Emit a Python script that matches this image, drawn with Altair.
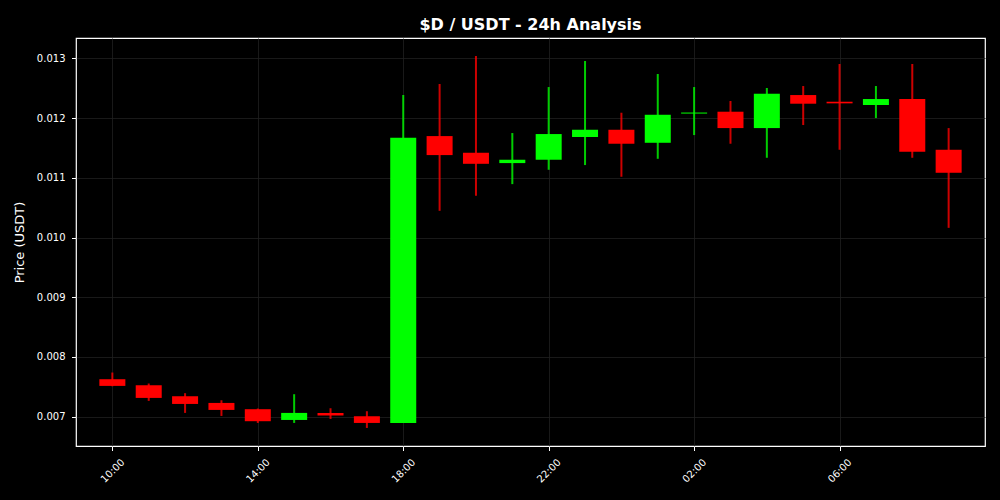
import altair as alt
import pandas as pd

times = [
    "2024-01-01T10:00:00", "2024-01-01T11:00:00", "2024-01-01T12:00:00", "2024-01-01T13:00:00",
    "2024-01-01T14:00:00", "2024-01-01T15:00:00", "2024-01-01T16:00:00", "2024-01-01T17:00:00",
    "2024-01-01T18:00:00", "2024-01-01T19:00:00", "2024-01-01T20:00:00", "2024-01-01T21:00:00",
    "2024-01-01T22:00:00", "2024-01-01T23:00:00", "2024-01-02T00:00:00", "2024-01-02T01:00:00",
    "2024-01-02T02:00:00", "2024-01-02T03:00:00", "2024-01-02T04:00:00", "2024-01-02T05:00:00",
    "2024-01-02T06:00:00", "2024-01-02T07:00:00", "2024-01-02T08:00:00", "2024-01-02T09:00:00",
]
open_ = [0.007628, 0.007527, 0.007343, 0.007231, 0.007126, 0.006946, 0.007064, 0.007008,
         0.006896, 0.011698, 0.011419, 0.011246, 0.011302, 0.011682, 0.011804, 0.011586,
         0.012075, 0.012106, 0.011832, 0.012385, 0.012273, 0.012218, 0.012318, 0.011469]
high = [0.007740, 0.007556, 0.007394, 0.007276, 0.007137, 0.007377, 0.007142, 0.007092,
        0.012385, 0.012570, 0.013039, 0.011749, 0.012519, 0.012955, 0.012089, 0.012737,
        0.012519, 0.012285, 0.012503, 0.012536, 0.012905, 0.012536, 0.012905, 0.011832]
low = [0.007510, 0.007265, 0.007064, 0.007013, 0.006896, 0.006896, 0.006963, 0.006812,
       0.006896, 0.010447, 0.010699, 0.010894, 0.011134, 0.011213, 0.011017, 0.011318,
       0.011715, 0.011570, 0.011335, 0.011883, 0.011469, 0.012000, 0.011335, 0.010162]
close = [0.007516, 0.007315, 0.007214, 0.007114, 0.006925, 0.007064, 0.007020, 0.006896,
         0.011670, 0.011380, 0.011234, 0.011302, 0.011732, 0.011804, 0.011570, 0.012055,
         0.012092, 0.011832, 0.012407, 0.012240, 0.012246, 0.012318, 0.011436, 0.011084]

tick_times = ["2024-01-01T10:00:00", "2024-01-01T14:00:00", "2024-01-01T18:00:00",
              "2024-01-01T22:00:00", "2024-01-02T02:00:00", "2024-01-02T06:00:00"]
y_ticks = [0.007, 0.008, 0.009, 0.010, 0.011, 0.012, 0.013]

df = pd.DataFrame({"time": times, "open": open_, "high": high, "low": low, "close": close})
df["dir"] = ["up" if c >= o else "down" for o, c in zip(open_, close)]

color = alt.Color("dir:N", scale=alt.Scale(domain=["up", "down"], range=["#00ff00", "#ff0000"]), legend=None)

x = alt.X(
    "time:T",
    scale=alt.Scale(domain=[alt.DateTime(year=2024, month=1, date=1, hours=9),
                            alt.DateTime(year=2024, month=1, date=2, hours=10)],
                    nice=False, padding=0),
    axis=alt.Axis(
        values=[alt.DateTime(year=2024, month=1, date=int(t[8:10]), hours=int(t[11:13])) for t in tick_times],
        format="%H:%M", labelAngle=-45, labelAlign="center", labelBaseline="middle",
        title=None, labelPadding=20, labelOverlap=False, labelBound=False,
    ),
)
yscale = alt.Scale(domain=[0.00651, 0.01334], nice=False, zero=False, padding=0)
yaxis = alt.Axis(values=y_ticks, format=".3f", title="Price (USDT)", titlePadding=10, labelPadding=6.5)

base = alt.Chart(df)
wicks = base.mark_rule(strokeWidth=2, opacity=0.8).encode(
    x=x, y=alt.Y("low:Q", scale=yscale, axis=yaxis), y2="high:Q", color=color
)
bodies = base.mark_bar(size=26).encode(
    x=x, y=alt.Y("open:Q", scale=yscale, axis=yaxis), y2="close:Q", color=color
)

chart = alt.layer(wicks, bodies).properties(
    width=909, height=408,
    title=alt.TitleParams("$D / USDT - 24h Analysis", font="DejaVu Sans", fontSize=16,
                          fontWeight="bold", color="white", offset=5, anchor="middle"),
    autosize=alt.AutoSizeParams(type="none"),
    padding={"left": 68, "top": 30, "right": 7, "bottom": 46},
).configure(
    background="black",
).configure_view(
    stroke="white", strokeWidth=1.2, fill="black",
).configure_axis(
    domain=False, grid=True, gridColor="#202020", gridWidth=0.8,
    tickColor="white", tickSize=4.5, labelColor="white", labelFont="DejaVu Sans",
    labelFontSize=10, titleColor="white", titleFont="DejaVu Sans", titleFontSize=13,
    titleFontWeight="normal",
)

# Black page background around the chart (page margin), via a wrapper on Altair's own template.
save_kwargs = {}
try:
    import jinja2
    from altair.utils import html as _alt_html

    _std = getattr(_alt_html, "TEMPLATES", {}).get("standard", getattr(_alt_html, "HTML_TEMPLATE", None))

    class _BlackPage(jinja2.Template):
        def render(self, *args, **kwargs):
            out = _std.render(*args, **kwargs)
            style = "<style>html, body { background: #000000; }</style>"
            if "<head>" in out:
                return out.replace("<head>", "<head>\n" + style, 1)
            return style + out

    if _std is not None:
        save_kwargs["template"] = _BlackPage("")
except Exception:
    save_kwargs = {}

try:
    chart.save("out.html", embed_options={"renderer": "svg", "actions": False}, **save_kwargs)
except Exception:
    chart.save("out.html", embed_options={"renderer": "svg", "actions": False})
